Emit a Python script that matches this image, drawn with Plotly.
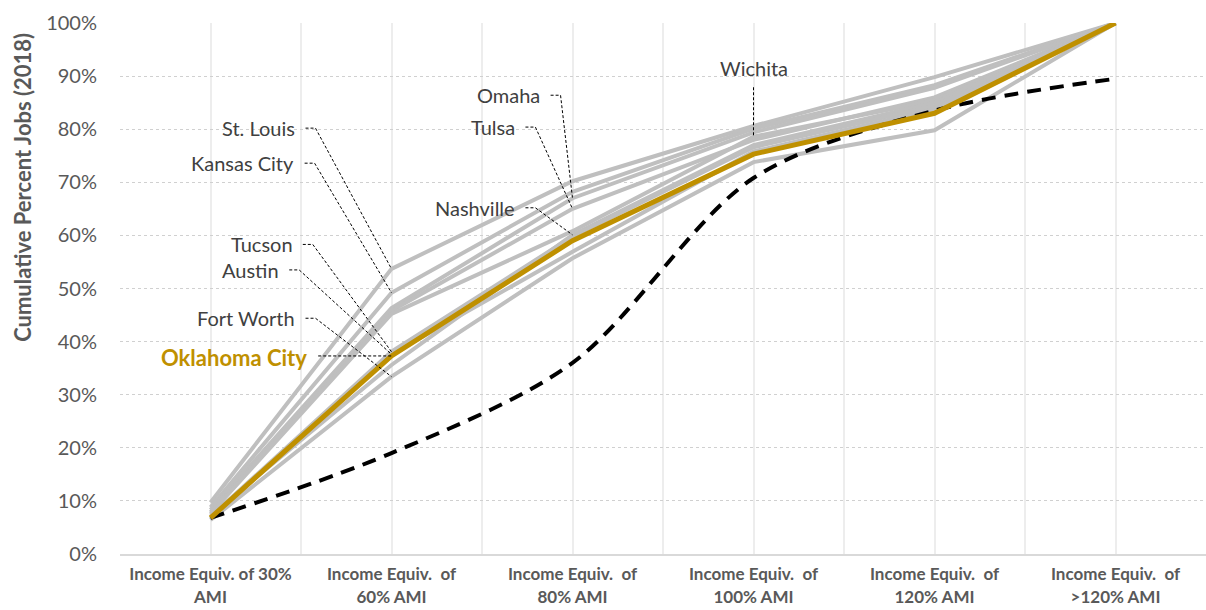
import plotly.graph_objects as go

categories = [
    "Income Equiv. of 30%<br>AMI",
    "Income Equiv.  of<br>60% AMI",
    "Income Equiv.  of<br>80% AMI",
    "Income Equiv.  of<br>100% AMI",
    "Income Equiv.  of<br>120% AMI",
    "Income Equiv.  of<br>>120% AMI",
]

st_louis = [9.7, 53.7, 70.2, 80.6, 89.8, 100]
kansas_city = [8.8, 49.2, 68.2, 80.1, 88.3, 100]
omaha = [8.3, 46.3, 67.0, 79.4, 87.8, 100]
tulsa = [7.9, 45.8, 65.0, 78.0, 86.0, 100]
wichita = [7.6, 45.2, 60.8, 78.6, 85.4, 100]
nashville = [7.3, 35.6, 60.1, 77.0, 85.0, 100]
tucson = [7.0, 38.1, 59.8, 76.6, 84.4, 100]
austin = [6.6, 37.6, 56.9, 75.8, 83.8, 100]
fort_worth = [6.4, 33.4, 55.7, 73.8, 79.8, 100]
oklahoma_city = [6.8, 37.3, 59.0, 75.3, 83.0, 100]
benchmark = [6.8, 19.0, 36.0, 70.8, 83.5, 89.5]

y_ticks = [0, 10, 20, 30, 40, 50, 60, 70, 80, 90, 100]
y_tick_labels = [f"{v}%" for v in y_ticks]

gray_cities = {
    "St. Louis": st_louis,
    "Kansas City": kansas_city,
    "Omaha": omaha,
    "Tulsa": tulsa,
    "Wichita": wichita,
    "Nashville": nashville,
    "Tucson": tucson,
    "Austin": austin,
    "Fort Worth": fort_worth,
}

xs = list(range(len(categories)))
FONT = "Lato"
GRAY_TXT = "#404040"
GOLD = "#BF9000"

fig = go.Figure()
for name, vals in gray_cities.items():
    fig.add_trace(go.Scatter(x=xs, y=vals, mode="lines", name=name,
                             line=dict(color="#BFBFBF", width=4)))
fig.add_trace(go.Scatter(x=xs, y=benchmark, mode="lines", name="Benchmark",
                         line=dict(color="black", width=4, dash="14px,9px",
                                   shape="spline", smoothing=0.9)))
fig.add_trace(go.Scatter(x=xs, y=oklahoma_city, mode="lines", name="Oklahoma City",
                         line=dict(color=GOLD, width=5)))

# label layout: (label x, label y, category index of target point)
label_layout = {
    "St. Louis": (0.48, 80.2, 1),
    "Kansas City": (0.475, 73.6, 1),
    "Tucson": (0.465, 58.3, 1),
    "Austin": (0.39, 53.5, 1),
    "Fort Worth": (0.48, 44.4, 1),
    "Omaha": (1.834, 86.4, 2),
    "Tulsa": (1.695, 80.4, 2),
    "Nashville": (1.695, 65.2, 2),
}

annotations = []
shapes = []
leader = dict(color="black", width=1, dash="3px,2px")
for name, (lx, ly, idx) in label_layout.items():
    annotations.append(dict(x=lx, y=ly, xref="x", yref="y", text=name, showarrow=False,
                            xanchor="right", yanchor="middle",
                            font=dict(family=FONT, size=20, color=GRAY_TXT)))
    tx, ty = idx, gray_cities[name][idx]
    path = f"M{lx + 0.045},{ly} L{lx + 0.1},{ly} L{tx},{ty}"
    shapes.append(dict(type="path", xref="x", yref="y", path=path, line=leader))

# Wichita label, centered above its 100% AMI point
wi_idx = 3
annotations.append(dict(x=wi_idx, y=91.6, xref="x", yref="y", text="Wichita", showarrow=False,
                        xanchor="center", yanchor="middle",
                        font=dict(family=FONT, size=20, color=GRAY_TXT)))
shapes.append(dict(type="line", xref="x", yref="y", x0=wi_idx, x1=wi_idx,
                   y0=87.9, y1=wichita[wi_idx], line=leader))

# Oklahoma City label
ok_idx = 1
annotations.append(dict(x=0.545, y=37.1, xref="x", yref="y", text="<b>Oklahoma City</b>",
                        showarrow=False, xanchor="right", yanchor="middle",
                        font=dict(family=FONT, size=22, color=GOLD)))
shapes.append(dict(type="line", xref="x", yref="y", x0=0.595, x1=ok_idx,
                   y0=oklahoma_city[ok_idx], y1=oklahoma_city[ok_idx], line=leader))

# y-axis title as annotation (offset like the original)
annotations.append(dict(x=-0.09, y=0.69, xref="paper", yref="paper",
                        text="<b>Cumulative Percent Jobs (2018)</b>", textangle=-90,
                        showarrow=False, xanchor="center", yanchor="middle",
                        font=dict(family=FONT, size=22, color="#595959")))

fig.update_layout(
    width=1206, height=610,
    margin=dict(l=120, r=0, t=23, b=56),
    plot_bgcolor="white", paper_bgcolor="white",
    showlegend=False,
    annotations=annotations,
    shapes=shapes,
    xaxis=dict(
        range=[-0.5, 5.5], automargin=False,
        tickmode="array", tickvals=xs, ticktext=[f"<b>{c}</b>" for c in categories],
        tickfont=dict(family=FONT, size=17, color="#595959"),
        showgrid=True, gridcolor="#EDEDED", gridwidth=2,
        minor=dict(tickmode="array", tickvals=[x + 0.5 for x in xs[:-1]],
                   showgrid=True, gridcolor="#EDEDED", gridwidth=2),
        showline=True, linecolor="#D9D9D9", linewidth=2,
        zeroline=False, ticks="", ticklabelstandoff=4,
    ),
    yaxis=dict(
        range=[0, 100], automargin=False,
        tickmode="array", tickvals=y_ticks, ticktext=y_tick_labels,
        tickfont=dict(family=FONT, size=20, color="#595959"),
        showgrid=True, gridcolor="#D0D0D0", gridwidth=1, griddash="dot",
        zeroline=False, showline=False, ticks="", ticklabelstandoff=22,
    ),
)

fig.write_html("out.html")
